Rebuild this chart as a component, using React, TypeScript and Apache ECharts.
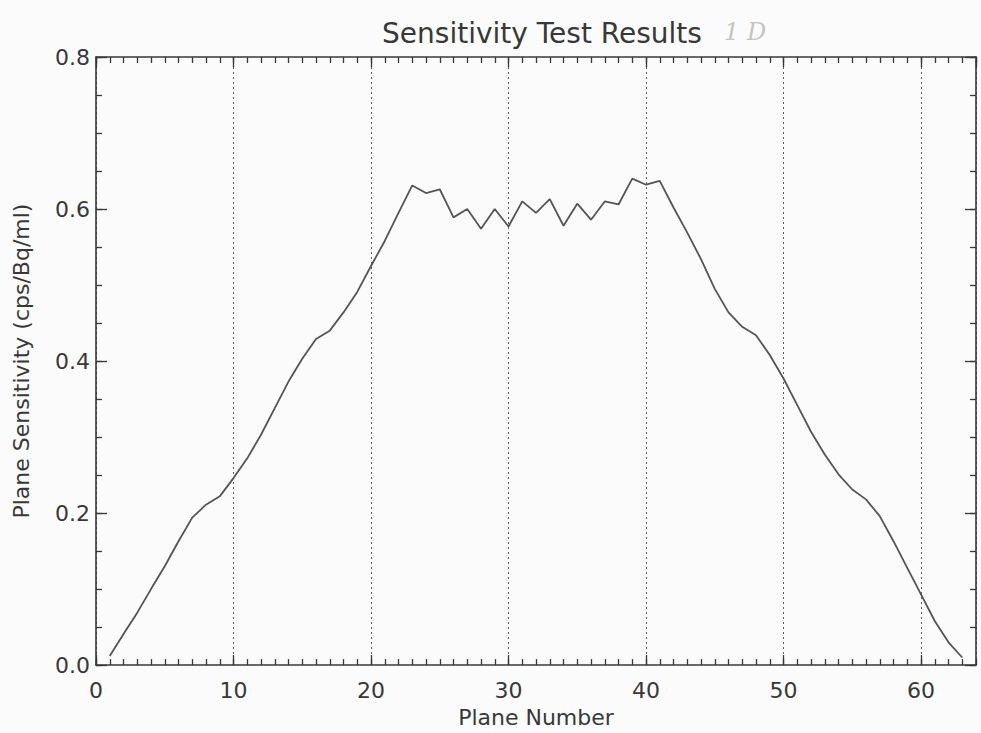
import React, { useEffect, useRef } from "react";
import * as echarts from "echarts";

const TITLE = "Sensitivity Test Results";
const X_NAME = "Plane Number";
const Y_NAME = "Plane Sensitivity (cps/Bq/ml)";

const planes = [
  1, 2, 3, 4, 5, 6, 7, 8, 9, 10, 11, 12, 13, 14, 15, 16, 17, 18, 19, 20, 21,
  22, 23, 24, 25, 26, 27, 28, 29, 30, 31, 32, 33, 34, 35, 36, 37, 38, 39, 40,
  41, 42, 43, 44, 45, 46, 47, 48, 49, 50, 51, 52, 53, 54, 55, 56, 57, 58, 59,
  60, 61, 62, 63,
];

const sensitivity = [
  0.012, 0.041, 0.069, 0.1, 0.13, 0.163, 0.194, 0.211, 0.222, 0.246, 0.272,
  0.303, 0.338, 0.373, 0.403, 0.429, 0.44, 0.464, 0.491, 0.525, 0.558, 0.595,
  0.631, 0.621, 0.626, 0.589, 0.6, 0.574, 0.6, 0.577, 0.61, 0.595, 0.613,
  0.578, 0.607, 0.586, 0.61, 0.606, 0.64, 0.632, 0.637, 0.602, 0.569, 0.534,
  0.495, 0.464, 0.445, 0.434, 0.408, 0.377, 0.342, 0.307, 0.277, 0.251, 0.231,
  0.218, 0.196, 0.163, 0.128, 0.093, 0.058, 0.03, 0.01,
];

const X_MIN = 0;
const X_MAX = 64;
const Y_MIN = 0;
const Y_MAX = 0.8;

export default function App() {
  const ref = useRef<HTMLDivElement>(null);

  useEffect(() => {
    if (!ref.current) return;
    const chart = echarts.init(ref.current, undefined, { renderer: "svg" });
    const font = "'DejaVu Sans', 'Liberation Sans', Arial, sans-serif";
    const ink = "#383838";
    const tickStyle = { color: ink, width: 1.3 };
    const axisLine = { show: true, onZero: false, lineStyle: { color: ink, width: 1.6 } };
    const hiddenLine = { show: false, onZero: false };

    const xMajor = (pos: "top" | "bottom", labels: boolean) => ({
      type: "value",
      position: pos,
      min: X_MIN,
      max: X_MAX,
      interval: 10,
      axisLine,
      axisTick: { show: true, inside: true, length: 10, lineStyle: tickStyle },
      axisLabel: labels
        ? {
            show: true,
            showMaxLabel: false,
            color: ink,
            fontSize: 22,
            fontFamily: font,
            margin: 14,
            formatter: (v: number) => String(v),
          }
        : { show: false },
      splitLine: labels
        ? { show: true, lineStyle: { color: "#5e5e5e", width: 1, type: [2, 3] } }
        : { show: false },
      name: labels ? X_NAME : "",
      nameLocation: "middle",
      nameGap: 38,
      nameTextStyle: { color: ink, fontSize: 22, fontFamily: font },
    });

    const xMinor = (pos: "top" | "bottom") => ({
      type: "value",
      position: pos,
      min: X_MIN,
      max: X_MAX,
      interval: 1,
      axisLine: hiddenLine,
      axisTick: { show: true, inside: true, length: 6, lineStyle: tickStyle },
      axisLabel: { show: false },
      splitLine: { show: false },
    });

    const yMajor = (pos: "left" | "right", labels: boolean) => ({
      type: "value",
      position: pos,
      min: Y_MIN,
      max: Y_MAX,
      interval: 0.2,
      axisLine,
      axisTick: { show: true, inside: true, length: 11, lineStyle: tickStyle },
      axisLabel: labels
        ? {
            show: true,
            color: ink,
            fontSize: 22,
            fontFamily: font,
            margin: 6,
            formatter: (v: number) => v.toFixed(1),
          }
        : { show: false },
      splitLine: { show: false },
      name: labels ? Y_NAME : "",
      nameLocation: "middle",
      nameGap: 64,
      nameTextStyle: { color: ink, fontSize: 22, fontFamily: font },
    });

    const yMinor = (pos: "left" | "right") => ({
      type: "value",
      position: pos,
      min: Y_MIN,
      max: Y_MAX,
      interval: 0.05,
      axisLine: hiddenLine,
      axisTick: { show: true, inside: true, length: 6, lineStyle: tickStyle },
      axisLabel: { show: false },
      splitLine: { show: false },
    });

    const option: any = {
      animation: false,
      backgroundColor: "#fbfbfb",
      title: {
        text: TITLE,
        left: 537,
        top: 14,
        textAlign: "center",
        textStyle: { color: ink, fontSize: 28, fontWeight: "normal", fontFamily: font },
      },
      graphic: [
        {
          type: "text",
          left: 724,
          top: 20,
          style: {
            text: "1 D",
            fill: "#c4c4c4",
            fontSize: 24,
            fontFamily: "'DejaVu Serif', serif",
            fontStyle: "italic",
          },
        },
      ],
      grid: { left: 96, right: 5, top: 57, bottom: 65, containLabel: false },
      xAxis: [xMajor("bottom", true), xMinor("bottom"), xMajor("top", false), xMinor("top")],
      yAxis: [yMajor("left", true), yMinor("left"), yMajor("right", false), yMinor("right")],
      series: [
        {
          type: "line",
          xAxisIndex: 0,
          yAxisIndex: 0,
          data: planes.map((p, i) => [p, sensitivity[i]]),
          showSymbol: false,
          symbol: "none",
          lineStyle: { color: "#555555", width: 1.8 },
        },
      ],
    };

    chart.setOption(option);
    return () => chart.dispose();
  }, []);

  return (
    <div
      ref={ref}
      style={{ position: "absolute", left: 0, top: 0, width: 981, height: 733 }}
    />
  );
}
